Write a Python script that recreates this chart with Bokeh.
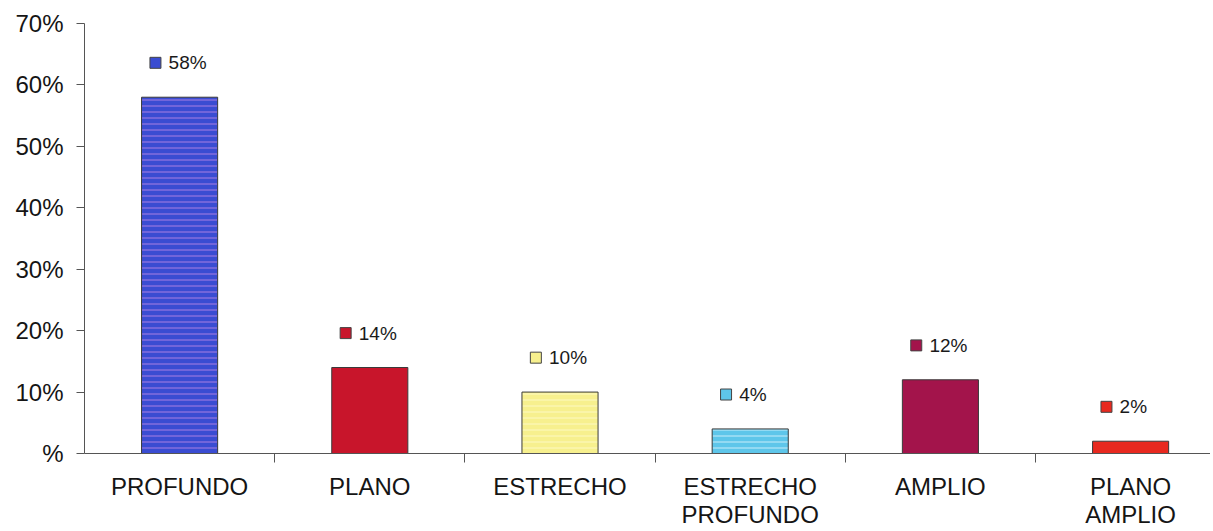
import numpy as np
from bokeh.plotting import figure
from bokeh.models import Range1d, FixedTicker, ColumnDataSource
from bokeh.core.properties import value
from bokeh.embed import file_html
from bokeh.resources import INLINE

categories = ["PROFUNDO", "PLANO", "ESTRECHO", "ESTRECHO\nPROFUNDO", "AMPLIO", "PLANO\nAMPLIO"]
values = [58, 14, 10, 4, 12, 2]
labels = ["58%", "14%", "10%", "4%", "12%", "2%"]
colors = ["#3a4cd2", "#c8152b", "#f7f08e", "#5ec6ea", "#a3144b", "#e8291f"]
hatch_colors = ["#c48ae6", "#d8404a", "#fffbd0", "#e4f6ff", "#b83060", "#ff6a50"]
hatches = ["horizontal_line", " ", "horizontal_line", "horizontal_line", " ", " "]
y_ticks = [0, 10, 20, 30, 40, 50, 60, 70]
y_tick_labels = ["%", "10%", "20%", "30%", "40%", "50%", "60%", "70%"]

FONT = "Liberation Sans"

n = len(categories)
centers = list(np.arange(n) + 0.5)
bounds = list(np.arange(1, n))

src = ColumnDataSource(dict(x=centers, top=values, label=labels, color=colors,
                            hcolor=hatch_colors, hatch=hatches,
                            kx=[c - 0.127 for c in centers],
                            ky=[v + 5.6 for v in values]))

p = figure(width=1210, height=530, output_backend="svg", toolbar_location=None,
           x_range=Range1d(0, 5.92), y_range=Range1d(0, 70),
           min_border_left=84, min_border_right=0, min_border_top=23, min_border_bottom=60)
p.outline_line_color = None
p.grid.visible = False
p.background_fill_color = "white"

p.vbar(x="x", top="top", bottom=0, width=0.4, source=src, fill_color="color",
       line_color="#3a3a3a", line_width=1,
       hatch_pattern="hatch", hatch_color="hcolor", hatch_scale=6, hatch_weight=1, hatch_alpha=0.8)

# legend-key squares next to the value labels
p.rect(x="kx", y="ky", width=11, height=11, width_units="screen", height_units="screen",
       source=src, fill_color="color", line_color="#444", line_width=1)
p.text(x="x", y="ky", text="label", source=src, x_offset=-11,
       text_align="left", text_baseline="middle", text_font=value(FONT),
       text_font_size="19px", text_color="#1a1a1a")

# y axis
ya = p.yaxis[0]
ya.ticker = FixedTicker(ticks=y_ticks)
ya.major_label_overrides = {t: l for t, l in zip(y_ticks, y_tick_labels)}
ya.major_tick_out = 8
ya.major_tick_in = 0
ya.minor_tick_line_color = None
ya.major_label_standoff = 13
ya.major_label_text_font = FONT
ya.major_label_text_font_size = "24px"
ya.major_label_text_color = "#151515"
ya.axis_line_color = "#555555"
ya.major_tick_line_color = "#555555"

# x axis
xa = p.xaxis[0]
xa.ticker = FixedTicker(ticks=centers, minor_ticks=bounds)
xa.major_label_overrides = {c: l for c, l in zip(centers, categories)}
xa.major_tick_line_color = None
xa.major_tick_out = 8
xa.major_tick_in = 0
xa.minor_tick_out = 9
xa.minor_tick_in = 0
xa.minor_tick_line_color = "#555555"
xa.axis_line_color = "#555555"
xa.major_label_standoff = 10
xa.major_label_text_font = FONT
xa.major_label_text_font_size = "24px"
xa.major_label_text_line_height = 1.05
xa.major_label_text_color = "#151515"
xa.major_label_text_align = "center"

open("out.html", "w").write(file_html(p, INLINE))
